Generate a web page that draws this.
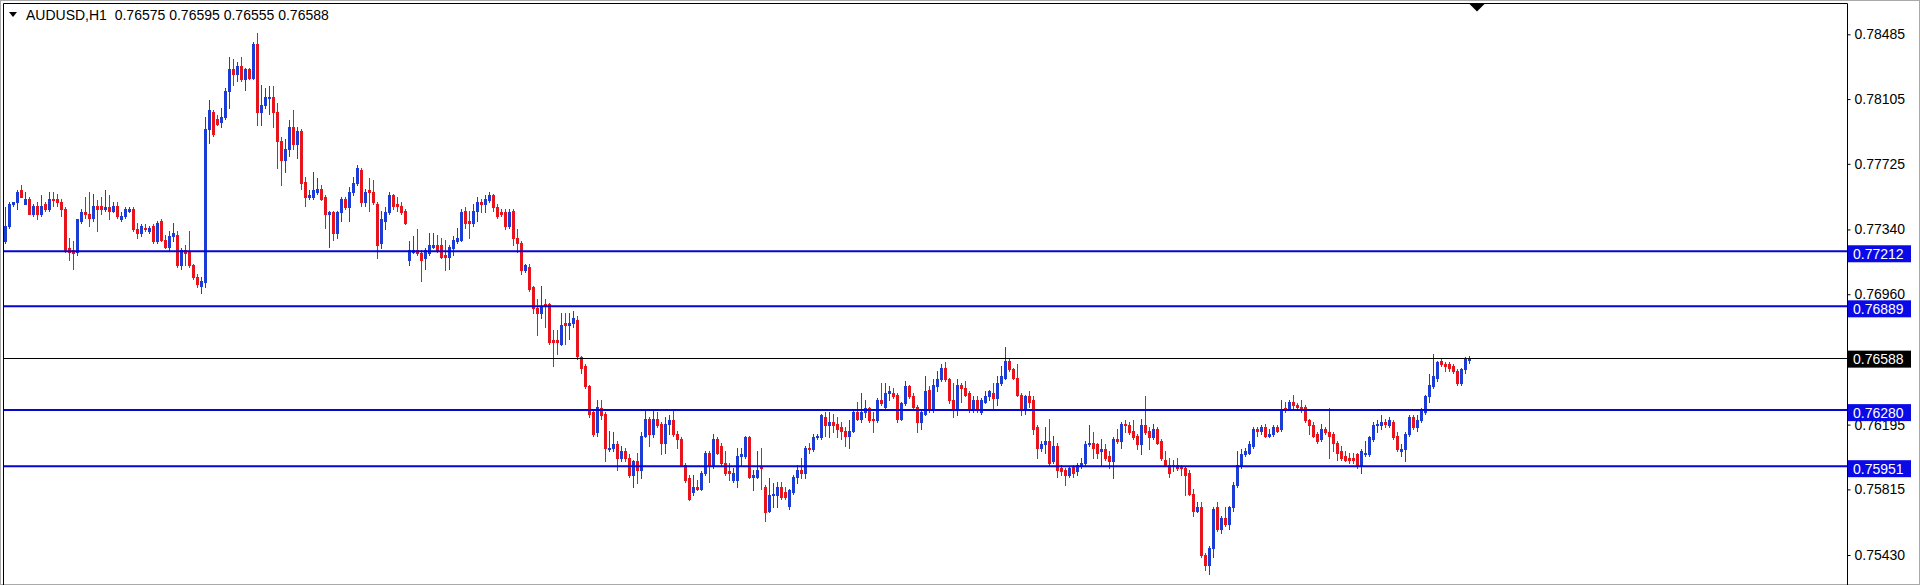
<!DOCTYPE html>
<html>
<head>
<meta charset="utf-8">
<script src="https://cdn.jsdelivr.net/npm/d3@7"></script>
<style>
  html, body { margin: 0; padding: 0; background: #ffffff; }
  svg text { font-family: "Liberation Sans", Arial, sans-serif; }
</style>
</head>
<body>
<div id="chart"></div>
<script>
//symbol and last bar shown in the header
var symbol = "AUDUSD,H1";
var lastBar = ["0.76575", "0.76595", "0.76555", "0.76588"];

//hourly bars, prices in pips (price = value / 10000)
var opens = [
  7727,7736,7749,7750,7757,7749,7752,7743,7748,7743,7749,7746,7752,7752,7750,7746,7723,7722,7721,7739,
  7744,7743,7741,7748,7748,7746,7747,7745,7748,7740,7742,7745,7746,7734,7732,7735,7733,7736,7727,7739,
  7728,7724,7730,7731,7713,7722,7721,7713,7706,7701,7703,7793,7803,7799,7797,7800,7815,7828,7825,7830,
  7822,7828,7823,7843,7803,7807,7811,7812,7803,7786,7775,7781,7794,7784,7792,7762,7753,7753,7756,7758,
  7753,7743,7744,7732,7744,7752,7747,7756,7761,7769,7750,7757,7756,7749,7726,7739,7744,7754,7749,7748,
  7745,7716,7721,7722,7720,7717,7720,7724,7725,7725,7719,7718,7723,7727,7728,7745,7739,7738,7745,7750,
  7749,7751,7754,7747,7744,7744,7736,7745,7729,7726,7710,7712,7700,7688,7685,7690,7690,7669,7669,7667,
  7679,7678,7679,7681,7659,7654,7642,7627,7615,7629,7626,7605,7606,7608,7600,7604,7600,7590,7598,7593,
  7613,7623,7614,7623,7620,7609,7620,7622,7614,7611,7596,7588,7580,7583,7582,7591,7603,7595,7611,7607,
  7597,7592,7587,7587,7601,7601,7612,7589,7589,7595,7583,7569,7578,7578,7583,7580,7572,7580,7589,7593,
  7591,7606,7605,7612,7612,7624,7619,7621,7620,7618,7616,7613,7616,7627,7623,7627,7629,7623,7622,7634,
  7630,7638,7638,7637,7623,7632,7642,7636,7630,7621,7626,7640,7628,7642,7646,7653,7646,7634,7628,7643,
  7641,7638,7628,7634,7627,7633,7636,7638,7635,7644,7647,7657,7652,7647,7637,7628,7636,7634,7618,7606,
  7608,7610,7598,7607,7594,7593,7590,7595,7592,7595,7597,7608,7609,7608,7604,7605,7601,7598,7611,7610,
  7620,7619,7616,7613,7608,7619,7616,7612,7617,7610,7599,7596,7596,7596,7595,7594,7591,7579,7569,7571,
  7543,7537,7547,7571,7558,7565,7561,7571,7584,7595,7602,7603,7607,7617,7616,7618,7613,7614,7618,7617,
  7629,7629,7633,7631,7630,7630,7622,7619,7614,7611,7617,7615,7614,7609,7604,7601,7600,7600,7602,7595,
  7602,7602,7611,7619,7619,7621,7619,7621,7613,7604,7605,7614,7624,7618,7622,7627,7636,7642,7647,7657,
  7655,7655,7654,7651,7644,7652,7657.5
];
var highs = [
  7747,7750,7750,7757,7760,7756,7753,7749,7750,7754,7750,7756,7756,7755,7752,7747,7729,7727,7740,7746,
  7753,7756,7755,7751,7753,7757,7754,7750,7750,7744,7747,7747,7747,7738,7737,7737,7736,7737,7739,7740,
  7731,7733,7738,7733,7723,7725,7733,7714,7708,7706,7800,7810,7804,7801,7805,7817,7835,7834,7832,7835,
  7829,7829,7844,7849,7819,7817,7818,7818,7808,7788,7787,7798,7804,7794,7793,7765,7757,7768,7764,7760,
  7754,7745,7745,7745,7753,7753,7759,7765,7772,7770,7758,7764,7763,7750,7745,7747,7756,7755,7753,7750,
  7746,7727,7730,7734,7722,7723,7732,7732,7731,7729,7728,7725,7730,7735,7746,7747,7745,7749,7753,7752,
  7754,7756,7755,7749,7746,7746,7746,7746,7734,7727,7714,7714,7701,7693,7701,7693,7691,7675,7675,7685,
  7685,7685,7686,7683,7660,7655,7643,7628,7634,7634,7627,7616,7615,7610,7607,7606,7602,7599,7603,7615,
  7628,7624,7628,7627,7621,7624,7625,7628,7616,7612,7597,7590,7590,7587,7592,7604,7604,7614,7612,7609,
  7604,7597,7594,7606,7606,7613,7613,7593,7604,7606,7584,7588,7585,7586,7586,7583,7582,7590,7596,7600,
  7607,7609,7614,7614,7626,7627,7627,7626,7624,7621,7618,7622,7628,7633,7638,7634,7630,7627,7635,7644,
  7644,7642,7641,7638,7633,7645,7643,7638,7631,7628,7648,7642,7646,7651,7655,7656,7647,7644,7646,7644,
  7645,7639,7636,7636,7635,7639,7640,7644,7648,7654,7665,7658,7653,7655,7638,7637,7639,7636,7619,7610,
  7618,7623,7613,7609,7596,7594,7595,7596,7597,7600,7610,7619,7615,7609,7611,7608,7604,7612,7617,7621,
  7622,7621,7622,7614,7623,7636,7618,7620,7618,7611,7604,7600,7599,7600,7596,7595,7593,7582,7574,7574,
  7544,7548,7571,7574,7566,7571,7572,7586,7604,7605,7606,7610,7618,7618,7619,7620,7617,7619,7619,7634,
  7633,7634,7637,7632,7634,7631,7623,7621,7615,7620,7618,7629,7615,7610,7607,7604,7603,7603,7603,7605,
  7610,7613,7621,7622,7625,7623,7624,7622,7615,7608,7615,7625,7625,7625,7629,7637,7649,7661,7657,7658,
  7656,7656,7655,7652,7653,7659,7659.5
];
var lows = [
  7726,7735,7748,7746,7753,7749,7743,7742,7740,7742,7745,7745,7748,7748,7742,7721,7716,7711,7719,7738,
  7741,7736,7739,7733,7743,7745,7740,7744,7741,7739,7741,7744,7733,7729,7730,7733,7732,7726,7726,7727,
  7723,7722,7727,7712,7711,7713,7712,7705,7700,7697,7700,7785,7789,7795,7794,7799,7805,7819,7821,7821,
  7816,7822,7822,7795,7795,7805,7802,7794,7770,7760,7768,7777,7781,7776,7758,7748,7752,7752,7755,7751,
  7735,7724,7728,7729,7739,7746,7739,7754,7760,7748,7748,7745,7749,7717,7723,7734,7743,7746,7745,7743,
  7737,7713,7720,7719,7704,7711,7719,7723,7721,7717,7710,7711,7719,7726,7727,7735,7729,7736,7739,7744,
  7744,7750,7745,7741,7742,7734,7735,7725,7721,7708,7709,7698,7685,7672,7682,7677,7667,7654,7661,7666,
  7667,7670,7677,7658,7650,7641,7624,7613,7613,7623,7598,7604,7604,7593,7598,7598,7589,7583,7585,7588,
  7612,7607,7612,7618,7602,7603,7614,7613,7606,7595,7586,7575,7578,7581,7581,7590,7586,7594,7602,7596,
  7590,7587,7586,7583,7595,7600,7588,7581,7588,7582,7563,7568,7571,7571,7576,7576,7570,7579,7585,7588,
  7588,7603,7604,7611,7611,7613,7612,7615,7612,7611,7607,7606,7615,7622,7621,7624,7621,7615,7621,7631,
  7628,7634,7635,7621,7622,7631,7635,7629,7615,7617,7625,7627,7627,7639,7645,7645,7632,7624,7625,7633,
  7636,7627,7627,7627,7626,7632,7634,7628,7631,7643,7646,7651,7646,7636,7625,7626,7630,7614,7600,7604,
  7603,7595,7597,7589,7590,7584,7589,7589,7590,7594,7596,7607,7600,7600,7595,7599,7594,7588,7609,7606,
  7615,7614,7611,7605,7602,7614,7605,7611,7608,7599,7595,7589,7592,7593,7590,7578,7578,7566,7568,7542,
  7534,7532,7542,7557,7556,7560,7558,7569,7583,7594,7601,7602,7606,7613,7614,7612,7612,7613,7615,7616,
  7627,7628,7629,7629,7627,7621,7614,7612,7609,7610,7614,7600,7604,7599,7599,7598,7597,7597,7594,7591,
  7601,7601,7610,7615,7617,7618,7618,7611,7604,7601,7598,7613,7617,7616,7621,7626,7633,7641,7645,7654,
  7651,7651,7650,7643,7643,7650,7655.5
];
var closes = [
  7736,7749,7750,7756,7753,7752,7743,7748,7743,7748,7746,7752,7751,7750,7746,7722,7721,7720,7740,7744,
  7743,7741,7748,7746,7746,7747,7745,7748,7742,7742,7746,7746,7734,7732,7736,7734,7735,7727,7738,7728,
  7724,7730,7732,7713,7722,7720,7713,7706,7702,7704,7793,7804,7790,7796,7800,7815,7828,7825,7830,7822,
  7828,7823,7843,7803,7807,7812,7812,7803,7786,7775,7781,7794,7784,7792,7761,7753,7754,7757,7758,7752,
  7743,7744,7732,7744,7752,7747,7756,7761,7770,7750,7756,7756,7750,7725,7740,7744,7754,7748,7748,7744,
  7738,7722,7722,7720,7716,7722,7725,7725,7722,7718,7718,7724,7728,7729,7744,7738,7738,7745,7750,7749,
  7752,7754,7747,7742,7743,7736,7744,7729,7726,7710,7713,7699,7688,7685,7689,7689,7668,7668,7668,7678,
  7678,7679,7682,7660,7653,7642,7626,7614,7630,7625,7606,7606,7608,7600,7604,7600,7590,7598,7593,7613,
  7623,7614,7623,7619,7609,7620,7622,7614,7611,7596,7587,7576,7583,7582,7591,7603,7595,7611,7603,7597,
  7591,7591,7591,7601,7602,7612,7589,7590,7593,7594,7568,7578,7579,7583,7577,7577,7581,7589,7593,7591,
  7606,7605,7612,7613,7625,7619,7621,7619,7617,7616,7613,7616,7627,7623,7627,7629,7622,7622,7634,7632,
  7638,7639,7636,7623,7632,7642,7636,7630,7621,7627,7639,7628,7643,7646,7653,7646,7634,7628,7643,7641,
  7637,7628,7634,7628,7634,7636,7639,7635,7644,7648,7657,7652,7647,7637,7628,7636,7633,7617,7606,7608,
  7610,7597,7607,7593,7592,7590,7594,7591,7596,7597,7608,7609,7606,7603,7605,7600,7598,7611,7610,7620,
  7619,7615,7612,7608,7619,7615,7612,7617,7609,7600,7596,7591,7595,7594,7594,7590,7579,7569,7571,7543,
  7537,7547,7570,7558,7565,7561,7571,7584,7596,7602,7604,7608,7617,7616,7618,7613,7614,7618,7616,7628,
  7628,7633,7631,7630,7629,7622,7619,7613,7610,7617,7615,7613,7609,7603,7600,7599,7599,7599,7595,7604,
  7603,7612,7619,7620,7621,7620,7622,7612,7605,7605,7614,7624,7618,7622,7628,7636,7643,7648,7656,7655,
  7654,7653,7651,7644,7652,7658,7658.8
];

//horizontal levels drawn on the chart
var levels = [0.77212, 0.76889, 0.76280, 0.75951];
var currentPrice = 0.76588;

//price scale labels
var tickValues = [0.78485, 0.78105, 0.77725, 0.77340, 0.76960, 0.76195, 0.75815, 0.75430];

var bars = opens.map(function(d, i) {
  return {
    i: i,
    open: d / 10000,
    high: highs[i] / 10000,
    low: lows[i] / 10000,
    close: closes[i] / 10000
  };
});

var width = 1920;
var height = 585;

//plot area (left frame, top frame, price axis line)
var plotLeft = 3;
var plotTop = 3;
var plotRight = 1847;

var bullColor = "#1c3cd6";
var bearColor = "#e8141c";
var levelColor = "#0606d2";

var svg = d3
  .select("#chart")
  .append("svg")
  .attr("width", width)
  .attr("height", height)
  .style("display", "block");

//bar index -> x (4 px per bar)
var xScale = d3
  .scaleLinear()
  .domain([-0.5, 460.5])
  .range([plotLeft, plotRight]);

//price -> y
var yScale = d3
  .scaleLinear()
  .domain([0.7543, 0.78485])
  .range([555, 34.3]);

//window edge
svg
  .append("rect")
  .attr("x", 0.5)
  .attr("y", 0.5)
  .attr("width", width - 1)
  .attr("height", height - 1)
  .attr("fill", "none")
  .attr("stroke", "#a9a9a9");

//chart frame
svg
  .append("path")
  .attr(
    "d",
    "M" + (plotLeft + 0.5) + "," + height +
      "V" + (plotTop + 0.5) +
      "H" + (plotRight + 0.5) +
      "V" + height
  )
  .attr("fill", "none")
  .attr("stroke", "#000")
  .attr("stroke-width", 1);

//candles
var candles = svg
  .append("g")
  .attr("class", "candles")
  .selectAll("g")
  .data(bars)
  .enter()
  .append("g")
  .attr("fill", function(d) {
    return d.close >= d.open ? bullColor : bearColor;
  });

candles
  .append("rect")
  .attr("class", "wick")
  .attr("x", function(d) {
    return Math.round(xScale(d.i));
  })
  .attr("width", 1)
  .attr("y", function(d) {
    return Math.round(yScale(d.high));
  })
  .attr("height", function(d) {
    return Math.max(1, Math.round(yScale(d.low)) - Math.round(yScale(d.high)) + 1);
  });

candles
  .append("rect")
  .attr("class", "body")
  .attr("x", function(d) {
    return Math.round(xScale(d.i)) - 1;
  })
  .attr("width", 3)
  .attr("y", function(d) {
    return Math.round(yScale(Math.max(d.open, d.close)));
  })
  .attr("height", function(d) {
    var top = Math.round(yScale(Math.max(d.open, d.close)));
    var bottom = Math.round(yScale(Math.min(d.open, d.close)));
    return Math.max(1, bottom - top + 1);
  });

//horizontal levels
svg
  .append("g")
  .attr("class", "levels")
  .selectAll("line")
  .data(levels)
  .enter()
  .append("line")
  .attr("x1", plotLeft + 1)
  .attr("x2", plotRight)
  .attr("y1", function(d) {
    return yScale(d);
  })
  .attr("y2", function(d) {
    return yScale(d);
  })
  .attr("stroke", levelColor)
  .attr("stroke-width", 2);

//bid line
svg
  .append("line")
  .attr("x1", plotLeft + 1)
  .attr("x2", plotRight)
  .attr("y1", Math.round(yScale(currentPrice)) + 0.5)
  .attr("y2", Math.round(yScale(currentPrice)) + 0.5)
  .attr("stroke", "#000")
  .attr("stroke-width", 1);

//price axis on the right
var yAxis = d3
  .axisRight(yScale)
  .tickValues(tickValues)
  .tickSize(3)
  .tickPadding(4)
  .tickFormat(d3.format(".5f"));

var axisG = svg
  .append("g")
  .attr("class", "y axis")
  .attr("transform", "translate(" + (plotRight + 0.5) + ",0)")
  .call(yAxis);

axisG.select(".domain").remove();
axisG.selectAll("line").attr("stroke", "#000");
axisG
  .selectAll("text")
  .attr("fill", "#000")
  .style("font-size", "14px")
  .style("font-family", '"Liberation Sans", Arial, sans-serif');

//price tags for the levels
var tags = svg
  .append("g")
  .attr("class", "tags")
  .selectAll("g")
  .data(levels)
  .enter()
  .append("g")
  .attr("transform", function(d) {
    return "translate(" + (plotRight + 1) + "," + yScale(d) + ")";
  });

tags
  .append("rect")
  .attr("x", 0)
  .attr("y", -6)
  .attr("width", 63)
  .attr("height", 17)
  .attr("fill", "#0a0ae6");

tags
  .append("text")
  .attr("x", 5)
  .attr("y", 2.5)
  .attr("dy", "0.35em")
  .attr("fill", "#fff")
  .style("font-size", "14px")
  .text(function(d) {
    return d3.format(".5f")(d);
  });

//bid tag
var bidTag = svg
  .append("g")
  .attr("transform", "translate(" + (plotRight + 1) + "," + yScale(currentPrice) + ")");

bidTag
  .append("rect")
  .attr("x", 0)
  .attr("y", -7)
  .attr("width", 63)
  .attr("height", 17)
  .attr("fill", "#000");

bidTag
  .append("text")
  .attr("x", 5)
  .attr("y", 1.5)
  .attr("dy", "0.35em")
  .attr("fill", "#fff")
  .style("font-size", "14px")
  .text(d3.format(".5f")(currentPrice));

//chart shift marker after the last bar
var shiftX = xScale(bars.length + 1);
svg
  .append("path")
  .attr("d", "M" + (shiftX - 8.5) + "," + plotTop + "L" + (shiftX + 8.5) + "," + plotTop + "L" + shiftX + "," + (plotTop + 8.5) + "Z")
  .attr("fill", "#000");

//header
svg
  .append("path")
  .attr("d", "M9,12L17,12L13,17Z")
  .attr("fill", "#000");

svg
  .append("text")
  .attr("x", 26)
  .attr("y", 19.5)
  .attr("fill", "#000")
  .style("font-size", "14px")
  .style("white-space", "pre")
  .text(symbol + "  " + lastBar.join(" "));
</script>
</body>
</html>
